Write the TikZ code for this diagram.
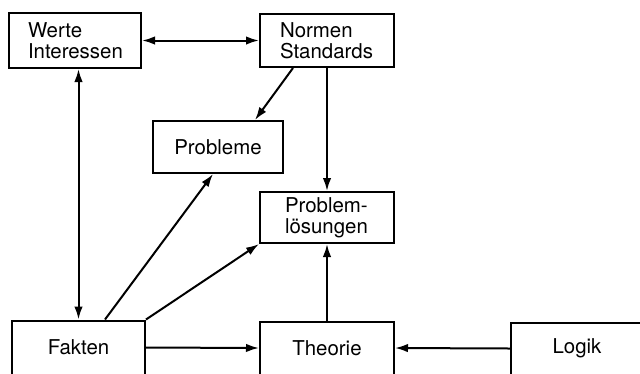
\documentclass[tikz,border=0pt]{standalone}
\usepackage{fontspec}
\setmainfont{TeX Gyre Heros}
\usetikzlibrary{arrows.meta}
\begin{document}
\begin{tikzpicture}[x=1bp,y=-1bp,
  box/.style={draw, line width=2bp, rectangle, inner sep=0pt,
    font=\fontsize{20.5}{21.5}\selectfont},
  conn/.style={line width=2bp, -{Latex[length=13bp,width=8.5bp]}},
  both/.style={line width=2bp, {Latex[length=13bp,width=8.5bp]}-{Latex[length=13bp,width=8.5bp]}}]
\useasboundingbox (0,0) rectangle (640,373);
\node[box, minimum width=132bp, minimum height=55bp, text width=94bp, align=left] (werte) at (75,40.5) {Werte\\Interessen};
\node[box, minimum width=134bp, minimum height=53bp, text width=94bp, align=left] (normen) at (327,40.5) {Normen\\Standards};
\node[box, minimum width=130bp, minimum height=52bp] (probleme) at (218,147) {Probleme};
\node[box, minimum width=134bp, minimum height=51bp, text width=84bp, align=left] (loesungen) at (327,217.5) {Problem-\\lösungen};
\node[box, minimum width=133bp, minimum height=54bp] (fakten) at (78.5,347.5) {Fakten};
\node[box, minimum width=134bp, minimum height=53bp] (theorie) at (327,348) {Theorie};
\node[box, minimum width=132bp, minimum height=52bp] (logik) at (577,348.5) {Logik};
\draw[both] (werte.east) -- (normen.west);
\draw[both] (werte.south -| fakten.north) -- (fakten.north);
\draw[conn] ([xshift=-34bp]normen.south) -- ([xshift=37bp]probleme.north);
\draw[conn] (normen.south) -- (loesungen.north);
\draw[conn] ([xshift=26.5bp]fakten.north) -- ([xshift=-5bp]probleme.south);
\draw[conn] (fakten.north east) -- (loesungen.south west);
\draw[conn] (fakten.east) -- (theorie.west);
\draw[conn] (theorie.north) -- (loesungen.south);
\draw[conn] (logik.west) -- (theorie.east);
\end{tikzpicture}
\end{document}
